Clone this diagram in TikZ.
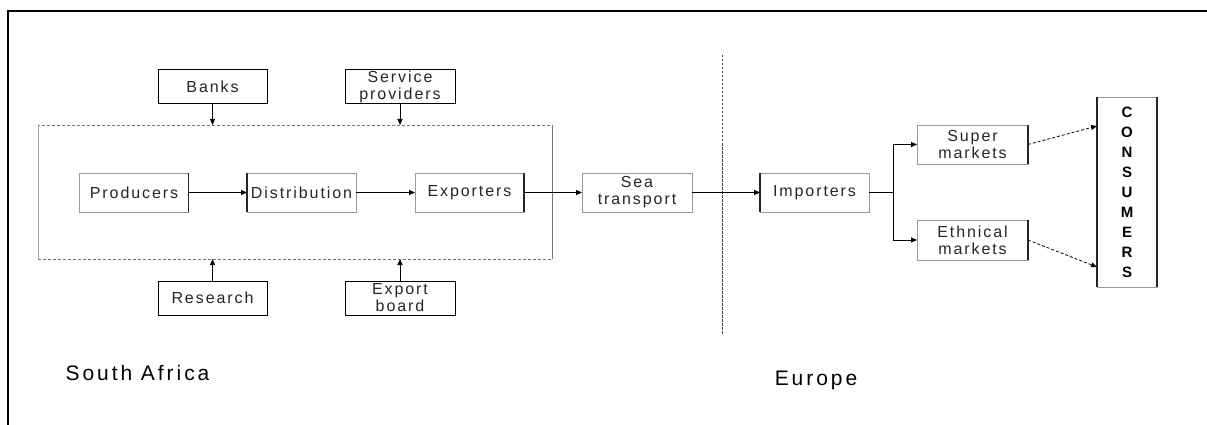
\documentclass[tikz,border=0pt]{standalone}
\usepackage{fontspec}
\setmainfont{Liberation Sans}
\newfontfamily\labelfont{Liberation Sans}[LetterSpace=12]
\newfontfamily\regionfont{Liberation Sans}[LetterSpace=14]
\usetikzlibrary{arrows.meta}
\begin{document}
\begin{tikzpicture}[x=1pt,y=-1pt,
  every node/.style={inner sep=0pt, outer sep=0pt},
  boxtext/.style={align=center, text=black!85,
    font=\labelfont\fontsize{16pt}{17pt}\selectfont},
  plainbox/.style={boxtext, draw=black, line width=1pt,
    minimum width=109pt, minimum height=34pt},
  flowbox/.style={boxtext, draw=black!40, line width=0.9pt,
    minimum width=109pt, minimum height=39pt},
  darkside/.style={line width=1.4pt, black!85},
  feed/.style={-{Triangle[length=6pt,width=5pt]}, line width=0.9pt},
  sale/.style={feed, densely dashed, line width=0.8pt},
  regiontext/.style={font=\regionfont\fontsize{21pt}{24pt}\selectfont}
]
\useasboundingbox (0,0) rectangle (1207,425);
\fill[white] (0,0) rectangle (1207,425);

% page frame
\draw[line width=2.2pt] (8,440) -- (8,11) -- (1220,11);

% South African chain
\node[draw=black!55, densely dashed, line width=0.8pt,
      minimum width=514pt, minimum height=134pt] (region) at (295,192) {};
\draw[black!35, line width=1pt] (region.north west) -- (region.south west);
\draw[black!55, line width=1pt] (region.north east) -- (region.south east);

\node[plainbox] (banks)    at (212.5,87)  {Banks};
\node[plainbox, minimum width=110pt] (service) at (400,87) {Service\\providers};
\node[plainbox] (research) at (212.5,298) {Research};
\node[plainbox, minimum width=110pt] (board) at (400,298) {Export\\board};

\node[flowbox] (prod) at (134,192.5)   {Producers};
\node[flowbox] (dist) at (301.5,192.5) {Distribution};
\node[flowbox] (expo) at (469.5,192.5) {Exporters};
\node[flowbox, minimum width=110pt] (sea) at (637,192.5) {Sea\\transport};

% European side
\node[flowbox] (imp) at (814.5,192.5) {Importers};
\node[flowbox, minimum width=111pt] (super) at (972.5,144.5) {Super\\markets};
\node[flowbox, minimum width=111pt, minimum height=40pt] (ethn) at (972.5,240) {Ethnical\\markets};
\node[draw=black!40, line width=0.9pt, minimum width=60pt, minimum height=190pt,
      align=center, font=\bfseries\fontsize{15pt}{20pt}\selectfont]
      (cons) at (1127,192) {C\\O\\N\\S\\U\\M\\E\\R\\S};

% heavier box sides
\foreach \n in {prod,expo,super,ethn,cons}
  \draw[darkside] (\n.north east) -- (\n.south east);
\foreach \n in {dist,imp,cons}
  \draw[darkside] (\n.north west) -- (\n.south west);

% border between the two regions
\coordinate (divtop) at (722,55);
\coordinate (divbot) at (722,335);
\draw[black!75, line width=0.9pt, dash pattern=on 2.5pt off 1.5pt] (divtop) -- (divbot);

% supporting services
\draw[feed] (banks.south) -- (banks.south |- region.north);
\draw[feed] (service.south) -- (service.south |- region.north);
\draw[feed] (research.north) -- (research.north |- region.south);
\draw[feed] (board.north) -- (board.north |- region.south);

% product flow
\draw[feed] (prod) -- (dist);
\draw[feed] (dist) -- (expo);
\draw[feed] (expo) -- (sea);
\draw[feed] (sea) -- (imp);
\draw[feed] (imp.east) -- ++(24,0) |- (super.west);
\draw[feed] (imp.east) -- ++(24,0) |- (ethn.west);
\draw[sale] (super.east) -- (cons.west |- 0,126);
\draw[sale] (ethn.east) -- (cons.west |- 0,267);

% region names
\node[regiontext] (sa) at (137.5,373) {South Africa};
\node[regiontext] (eu) at (816,380) {Europe};
\end{tikzpicture}
\end{document}
